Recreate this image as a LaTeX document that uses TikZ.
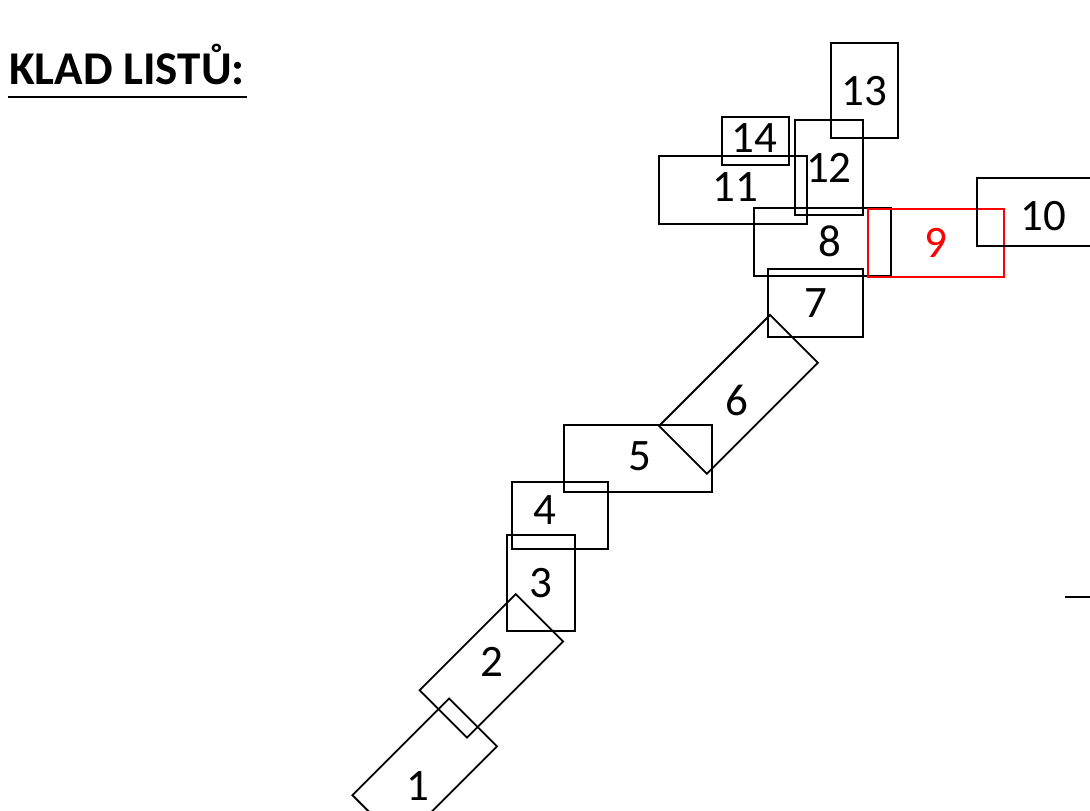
\documentclass[tikz,border=0pt]{standalone}
\usepackage{fontspec}
\setmainfont{Carlito}
\begin{document}
\begin{tikzpicture}[x=1pt,y=-1pt,
  box/.style={draw=black,line width=1.8pt,inner sep=0pt,font=\fontsize{45}{45}\selectfont},
  redbox/.style={box,draw=red,text=red},
  num/.style={inner sep=0pt,font=\fontsize{45}{45}\selectfont}]
\useasboundingbox (0,0) rectangle (1090,811);
\clip (0,0) rectangle (1090,811);
% title
\node[anchor=base west,inner sep=0pt,font=\fontsize{47}{47}\selectfont\bfseries] (title) at (9,84) {KLAD LISTŮ:};
\coordinate (ulA) at (8,96.5);
\coordinate (ulB) at (247,96.5);
\draw[line width=2pt] (ulA) -- (ulB);
% rotated boxes
\node[box,minimum width=136.7,minimum height=67.6,rotate=45] (r1) at (424.7,770.8) {};
\node[num] (n1) at (418,786) {1};
\node[box,minimum width=136,minimum height=67,rotate=45] (r2) at (491.4,665.9) {};
\node[num] (n2) at (492,662) {2};
% axis-aligned boxes
\node[box,minimum width=68,minimum height=96] (r3) at (540.8,583) {3};
\node[box,minimum width=96,minimum height=67.6] (r4) at (560.3,515.5) {};
\node[num] (n4) at (545,510) {4};
\node[box,minimum width=147.7,minimum height=67.3] (r5) at (637.8,458.7) {};
\node[num] (n5) at (640,456) {5};
\node[box,minimum width=157,minimum height=67.6,rotate=45] (r6) at (738.5,394.3) {};
\node[num] (n6) at (737,400) {6};
\node[box,minimum width=95.6,minimum height=67.4] (r7) at (815.5,303) {7};
\node[box,minimum width=136.7,minimum height=68.3] (r8) at (822.3,241.8) {};
\node[num] (n8) at (830,241) {8};
\node[redbox,minimum width=136,minimum height=67.7] (r9) at (936.3,242.8) {9};
\node[box,minimum width=140,minimum height=67.7] (r10) at (1046.7,212.2) {};
\node[num] (n10) at (1043,216) {10};
\node[box,minimum width=148,minimum height=68] (r11) at (733.3,190) {};
\node[num] (n11) at (735,187) {11};
\node[box,minimum width=67.7,minimum height=95.3] (r12) at (828.8,167.6) {12};
\node[box,minimum width=67,minimum height=95] (r13) at (864.2,90.8) {13};
\node[box,minimum width=67.6,minimum height=48] (r14) at (755.5,140.7) {};
\node[num] (n14) at (754,138) {14};
% stray line at right edge
\coordinate (sA) at (1065,596.7);
\coordinate (sB) at (1092,596.7);
\draw[line width=1.8pt] (sA) -- (sB);
\end{tikzpicture}
\end{document}
